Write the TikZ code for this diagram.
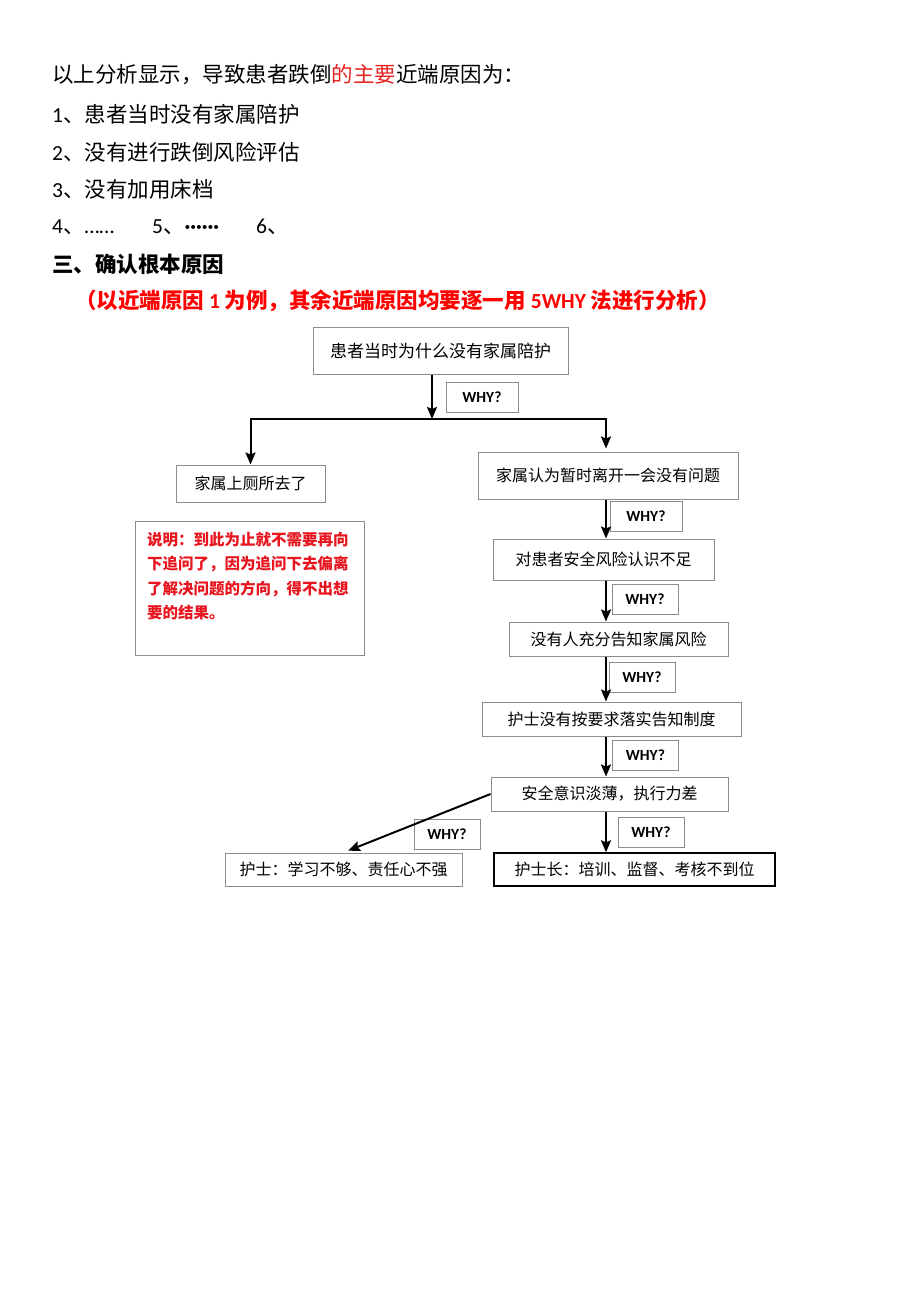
\documentclass[tikz,border=0pt]{standalone}
\usepackage{fontspec}
\setmainfont{Carlito}
\newfontfamily\cjk{Noto Sans CJK SC}
\newfontfamily\lat{Carlito}
\usetikzlibrary{arrows.meta}

\definecolor{boxgray}{RGB}{140,140,140}
\definecolor{keyred}{RGB}{230,35,35}
\definecolor{notered}{RGB}{232,20,30}

\newcommand*{\pagew}{920}
\newcommand*{\pageh}{1301}
\newcommand*{\spinex}{606}

\begin{document}
\begin{tikzpicture}
[
	x=1pt, y=-1pt,
	box/.style={draw=boxgray,line width=1pt,inner sep=0pt,font=\cjk\fontsize{16}{16}\selectfont},
	whybox/.style={draw=boxgray,line width=1pt,inner sep=0pt,minimum width=66pt,minimum height=30pt,font=\lat\bfseries\fontsize{15.5}{15.5}\selectfont},
	txt/.style={anchor=west,inner sep=0pt,font=\cjk\fontsize{21.5}{21.5}\selectfont},
	arr/.style={-{Stealth[length=12pt,width=10pt,inset=2pt]},line width=2pt}
]

	\useasboundingbox (0,0) rectangle (\pagew,\pageh);
	\fill[white] (0,0) rectangle (\pagew,\pageh);

	% text above the chart
	\node (intro) [txt] at (52,75) {以上分析显示，导致患者跌倒{\color{keyred}的主要}近端原因为：};
	\node (item1) [txt] at (52,114) {{\lat 1}、患者当时没有家属陪护};
	\node (item2) [txt] at (52,152) {{\lat 2}、没有进行跌倒风险评估};
	\node (item3) [txt] at (52,189) {{\lat 3}、没有加用床档};
	\node (item4) [txt] at (52,227) {{\lat 4}、{\lat ……}};
	\node (item5) [txt] at (152,227) {{\lat 5}、{\lat\bfseries ······}};
	\node (item6) [txt] at (256,227) {{\lat 6}、};
	\node (head) [txt,font=\cjk\bfseries\fontsize{21.5}{21.5}\selectfont] at (52,264) {三、确认根本原因};
	\node (hint) [txt,text=red,font=\cjk\bfseries\fontsize{21.5}{21.5}\selectfont] at (75,301)
	  {（以近端原因\ {\lat 1}\ 为例，其余近端原因均要逐一用\ {\lat 5WHY}\ 法进行分析）};

	% boxes
	\node (q) [box,minimum width=255pt,minimum height=47pt,font=\cjk\fontsize{17}{17}\selectfont] at (440.5,350.5) {患者当时为什么没有家属陪护};
	\node (a1) [box,minimum width=149pt,minimum height=37pt] at (250.5,483.5) {家属上厕所去了};
	\node (b1) [box,minimum width=260pt,minimum height=47pt] at (608,475.5) {家属认为暂时离开一会没有问题};
	\node (b2) [box,minimum width=221pt,minimum height=41pt] at (603.5,559.5) {对患者安全风险认识不足};
	\node (b3) [box,minimum width=219pt,minimum height=34pt] at (618.5,639) {没有人充分告知家属风险};
	\node (b4) [box,minimum width=259pt,minimum height=34pt] at (611.5,719) {护士没有按要求落实告知制度};
	\node (b5) [box,minimum width=237pt,minimum height=34pt] at (609.5,794) {安全意识淡薄，执行力差};
	\node (c1) [box,minimum width=237pt,minimum height=33pt] at (343.5,869.5) {护士：学习不够、责任心不强};
	\node (c2) [box,draw=black,line width=1.4pt,minimum width=281pt,minimum height=33pt] at (634.5,869.5) {护士长：培训、监督、考核不到位};

	% note
	\node (note) [box,minimum width=229pt,minimum height=134pt] at (249.5,588) {};
	\node (notetxt) [anchor=north west,inner sep=0pt,align=left,text=notered,
	  font=\cjk\bfseries\fontsize{15.5}{24.5}\selectfont] at (147,532)
	  {说明：到此为止就不需要再向\\下追问了，因为追问下去偏离\\了解决问题的方向，得不出想\\要的结果。};

	% why labels
	\node (w0) [whybox,minimum width=72pt] at (482,397) {WHY?};
	\node (w1) [whybox,minimum width=72pt] at (646,516.5) {WHY?};
	\node (w2) [whybox] at (645,599) {WHY?};
	\node (w3) [whybox] at (642,677) {WHY?};
	\node (w4) [whybox] at (645.5,755) {WHY?};
	\node (w5) [whybox] at (447,834) {WHY?};
	\node (w6) [whybox] at (651,832) {WHY?};

	% arrows
	\coordinate (fork) at (432,419);
	\coordinate (spine) at (\spinex,0);
	\draw[arr] (q.south -| fork) -- (fork);
	\draw[arr] (fork) -| (a1.north);
	\draw[arr,shorten >=3pt] (fork) -| (b1.north -| spine);
	\foreach \a/\b in {b1/b2,b2/b3,b3/b4,b4/b5,b5/c2} {
		\draw[arr] (\a.south -| spine) -- (\b.north -| spine);
	}
	\draw[arr,shorten >=5pt] (b5.west) -- (c1.north);

\end{tikzpicture}
\end{document}
